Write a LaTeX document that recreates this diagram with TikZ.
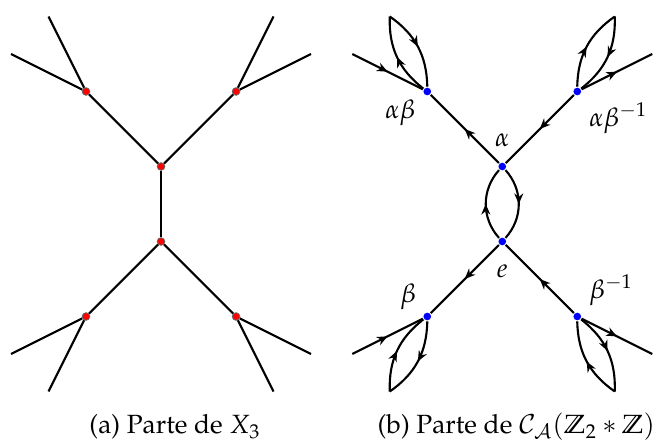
\documentclass[tikz,border=0pt]{standalone}
\usepackage{amsmath,amssymb}
\usepackage[T1]{fontenc}
\usepackage{mathpazo}
\usetikzlibrary{arrows.meta,decorations.markings}

\tikzset{
	redv/.style={circle,fill=red,draw=black!60,line width=0.3pt,inner sep=0pt,minimum size=2.9pt},
	bluev/.style={circle,fill=blue,inner sep=0pt,minimum size=2.9pt},
	midarrow/.style={postaction={decorate},
		decoration={markings,mark=at position 0.5 with {\arrow{Stealth[length=4pt,width=3.4pt,inset=1.3pt]}}}},
}

\begin{document}
\begin{tikzpicture}[thick,font=\fontsize{10}{12}\selectfont]
	\useasboundingbox (-2.147,-3.16) rectangle (6.613,2.72);
	
	% (a) part of X_3
	\node[redv] (ta) at (0,0.5) {};
	\node[redv] (tb) at (0,-0.5) {};
	\draw (ta) -- (tb);
	\foreach \n/\sx/\sy in {ul/-1/1, ur/1/1, dl/-1/-1, dr/1/-1}{
		\node[redv] (\n) at (\sx,1.5*\sy) {};
		\coordinate (\n p) at (2*\sx,2*\sy);
		\coordinate (\n q) at (1.5*\sx,2.5*\sy);
		\draw (\n) -- (\n p);
		\draw (\n) -- (\n q);
	}
	\draw (ul) -- (ta) -- (ur);
	\draw (dl) -- (tb) -- (dr);
	\node (capa) at (0.187,-2.97) {(a) Parte de $X_3$};
	
	% (b) part of the Cayley graph
	\begin{scope}[xshift=4.55cm]
		\node[bluev] (alpha) at (0,0.5) {};
		\node[bluev] (e) at (0,-0.5) {};
		\node[bluev] (ab) at (-1,1.5) {};
		\node[bluev] (abi) at (1,1.5) {};
		\node[bluev] (b) at (-1,-1.5) {};
		\node[bluev] (bi) at (1,-1.5) {};
		
		% alpha has order two: double edge
		\draw[midarrow] (e) to[bend left=42] (alpha);
		\draw[midarrow] (alpha) to[bend left=42] (e);
		
		% beta edges
		\draw[midarrow] (e) -- (b);
		\draw[midarrow] (bi) -- (e);
		\draw[midarrow] (alpha) -- (ab);
		\draw[midarrow] (abi) -- (alpha);
		
		% outer vertices: one beta edge and one alpha loop each
		\foreach \n/\sx/\sy in {ab/-1/1, abi/1/1, b/-1/-1, bi/1/-1}{
			\coordinate (\n p) at (2*\sx,2*\sy);
			\coordinate (\n q) at (1.5*\sx,2.5*\sy);
			\draw[midarrow] (\n) to[bend left=27] (\n q);
			\draw[midarrow] (\n q) to[bend left=27] (\n);
		}
		\draw[midarrow] (abp) -- (ab);
		\draw[midarrow] (abi) -- (abip);
		\draw[midarrow] (bp) -- (b);
		\draw[midarrow] (bi) -- (bip);
		
		% labels
		\node (lalpha) at (0,0.853) {$\alpha$};
		\node (le) at (0,-0.893) {$e$};
		\node (lab) at (-1.36,1.21) {$\alpha\beta$};
		\node (labi) at (1.547,1.147) {$\alpha\beta^{-1}$};
		\node (lb) at (-1.253,-1.24) {$\beta$};
		\node (lbi) at (1.453,-1.147) {$\beta^{-1}$};
		
		\node (capb) at (0.187,-2.97) {(b) Parte de $\mathcal{C}_{\mathcal{A}}(\mathbb{Z}_2 * \mathbb{Z})$};
	\end{scope}
\end{tikzpicture}
\end{document}
